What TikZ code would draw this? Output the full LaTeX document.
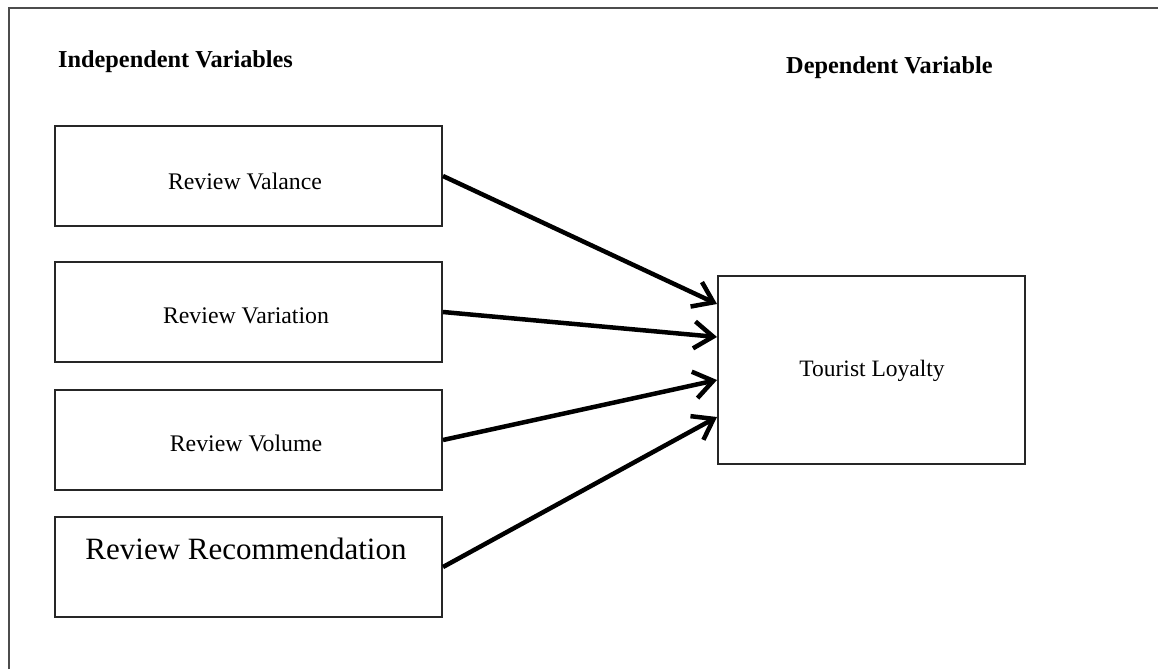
\documentclass[tikz,border=0pt]{standalone}
\usepackage{fontspec}
\setmainfont{Liberation Serif}
\usetikzlibrary{arrows.meta,calc}
\begin{document}
\begin{tikzpicture}[x=1pt,y=1pt,
  varbox/.style={draw=black!85,line width=2pt,minimum width=387pt,minimum height=100pt,inner sep=0pt,font=\fontsize{23.5}{28}\selectfont},
  depbox/.style={draw=black!85,line width=2pt,minimum width=307pt,minimum height=188pt,inner sep=0pt,font=\fontsize{23.5}{28}\selectfont},
  heading/.style={font=\fontsize{24.3}{28}\selectfont\bfseries,inner sep=0pt},
  link/.style={line width=4.5pt,-{Straight Barb[length=19pt,width=27pt,line width=4.5pt]},black}]
\useasboundingbox (0,0) rectangle (1158,-669);
\draw[line width=2pt,black!70] (9,-669) -- (9,-8) -- (1158,-8);
\node[heading,anchor=west] (hi) at (58,-62) {Independent Variables};
\node[heading,anchor=west] (hd) at (786,-68) {Dependent Variable};
\node[varbox] (v1) at (248.5,-176) {};
\node[varbox] (v2) at (248.5,-312) {};
\node[varbox] (v3) at (248.5,-440) {};
\node[varbox] (v4) at (248.5,-567) {};
\node[inner sep=0pt,font=\fontsize{23.8}{28}\selectfont] (t1) at (245,-181) {Review Valance};
\node[inner sep=0pt,font=\fontsize{23.8}{28}\selectfont] (t2) at (246,-316) {Review Variation};
\node[inner sep=0pt,font=\fontsize{23.8}{28}\selectfont] (t3) at (246,-443) {Review Volume};
\node[inner sep=0pt,font=\fontsize{31}{36}\selectfont] (t4) at (246,-549) {Review Recommendation};
\node[depbox] (tl) at (871.5,-370) {};
\node[inner sep=0pt,font=\fontsize{23.5}{28}\selectfont] (tt) at (872,-371) {Tourist Loyalty};
\draw[link] (v1.east) -- ([yshift=66pt]tl.west);
\draw[link] (v2.east) -- ([yshift=33pt]tl.west);
\draw[link] (v3.east) -- ([yshift=-10pt]tl.west);
\draw[link] (v4.east) -- ([yshift=-47pt]tl.west);
\end{tikzpicture}
\end{document}
